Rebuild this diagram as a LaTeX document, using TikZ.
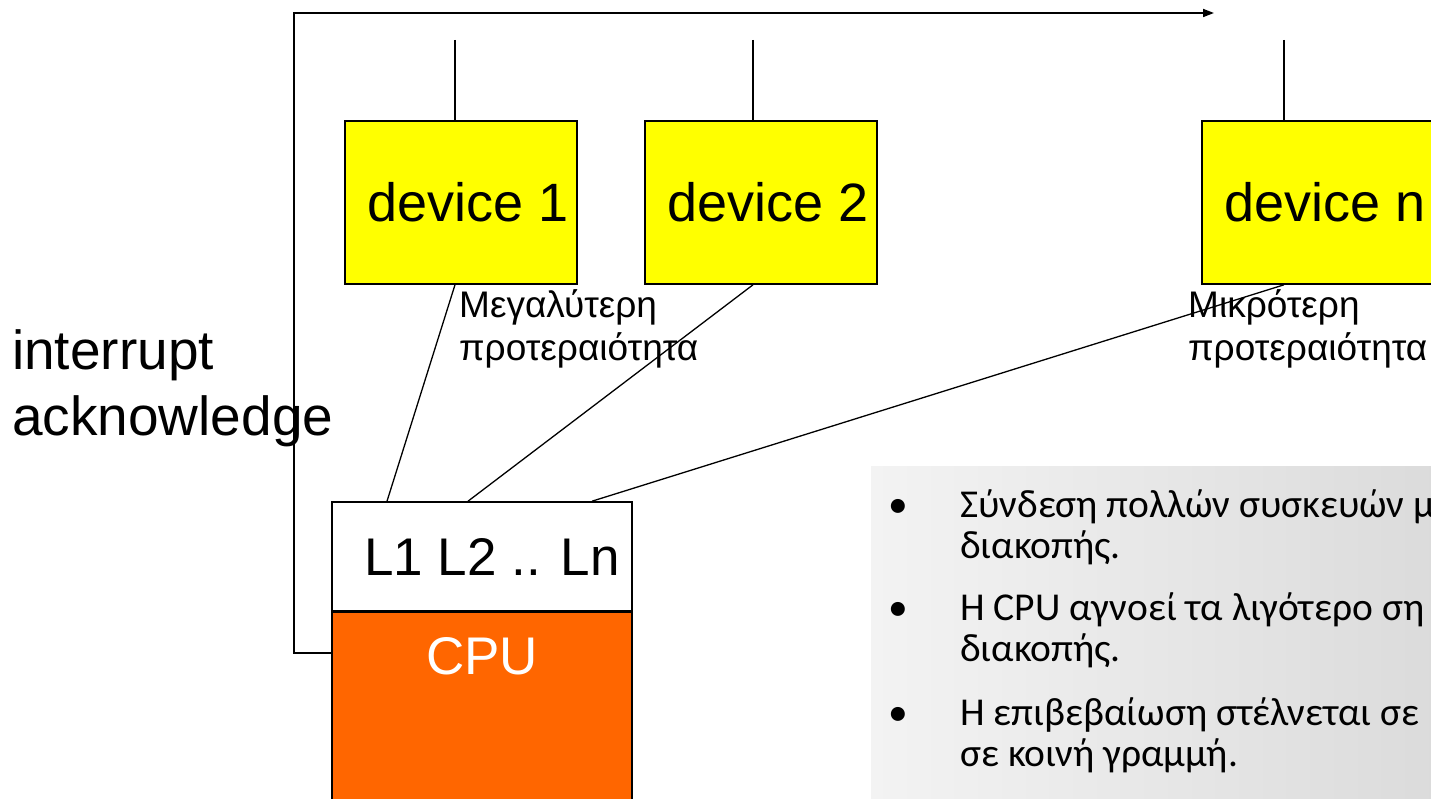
\documentclass[tikz,border=0pt]{standalone}
\usepackage{fontspec}
\setmainfont{Liberation Sans}
\newfontfamily\notefont{Carlito}
\usetikzlibrary{arrows.meta}

\definecolor{devyellow}{HTML}{FFFF00}
\definecolor{cpuorange}{HTML}{FF6600}
\definecolor{panellight}{HTML}{F3F3F3}
\definecolor{paneldark}{HTML}{DBDBDB}

\tikzset{
  wire/.style={line width=1.7pt, black},
  thinwire/.style={line width=1.3pt, black},
  devbox/.style={draw=black, line width=1.6pt, fill=devyellow,
    minimum width=232pt, minimum height=163pt, inner sep=0pt,
    font=\fontsize{54}{60}\selectfont,
    execute at begin node=\hspace*{14pt}},
  cpuhead/.style={draw=black, line width=1.6pt, fill=white,
    minimum width=300pt, minimum height=109pt, inner sep=0pt,
    font=\fontsize{53}{60}\selectfont,
    execute at begin node=\hspace*{20pt}},
  cpubody/.style={draw=black, line width=1.6pt, fill=cpuorange, text=white,
    minimum width=300pt, inner xsep=0pt, inner ysep=24pt,
    text height=38pt, text depth=200pt,
    font=\fontsize{53}{60}\selectfont},
  biglabel/.style={anchor=base west, inner sep=0pt,
    font=\fontsize{55}{60}\selectfont},
  prio/.style={anchor=base west, inner sep=0pt,
    font=\fontsize{37}{42}\selectfont},
  note/.style={anchor=base west, inner sep=0pt,
    font=\notefont\fontsize{39.5}{44}\selectfont},
  dot/.style={anchor=base, inner sep=0pt,
    font=\notefont\fontsize{39.5}{44}\selectfont},
}

\begin{document}
\begin{tikzpicture}[x=1pt, y=-1pt]
  \useasboundingbox (0,0) rectangle (1431,799);
  \clip (0,0) rectangle (1431,799);

  % shaded notes panel
  \fill[left color=panellight, right color=paneldark] (871,466) rectangle (1440,810);

  % devices
  \node[devbox] (dev1) at (461,202.5) {device 1};
  \node[devbox] (dev2) at (761,202.5) {device 2};
  \node[devbox] (devn) at (1318,202.5) {device n};

  % interrupt request stubs above the devices
  \coordinate (t1) at (455,40);
  \coordinate (t2) at (753,40);
  \coordinate (tn) at (1284,40);
  \draw[thinwire] (t1) -- (t1 |- dev1.north);
  \draw[thinwire] (t2) -- (t2 |- dev2.north);
  \draw[thinwire] (tn) -- (tn |- devn.north);

  % CPU with its interrupt lines
  \node[cpuhead] (lbox) at (482,556.5) {L1 L2 .. Ln};
  \node[cpubody, anchor=north] (cpu) at (lbox.south) {CPU};

  % each device to its own line
  \draw[thinwire] (t1 |- dev1.south) -- ([xshift=-95pt]lbox.north);
  \draw[thinwire] (t2 |- dev2.south) -- ([xshift=-14pt]lbox.north);
  \draw[thinwire] (tn |- devn.south) -- ([xshift=110pt]lbox.north);

  % acknowledge line
  \coordinate (corner) at (294,13);
  \coordinate (ackend) at (1214,13);
  \draw[wire, -{Triangle[length=11pt,width=8pt]}]
    ([yshift=-41pt]cpu.north west) -| (corner) -- (ackend);

  % labels
  \node[biglabel] (int1) at (12,369) {interrupt};
  \node[biglabel] (int2) at (12,435) {acknowledge};

  \node[prio] (hi1) at (459,318) {Μεγαλύτερη};
  \node[prio] (hi2) at (459,360) {προτεραιότητα};
  \node[prio] (lo1) at (1188,318) {Μικρότερη};
  \node[prio] (lo2) at (1188,360) {προτεραιότητα};

  % notes
  \node[dot] (b1) at (898,517) {•};
  \node[note] (n1) at (960,517) {Σύνδεση πολλών συσκευών μ};
  \node[note] (n2) at (960,558) {διακοπής.};
  \node[dot] (b2) at (898,620) {•};
  \node[note] (n3) at (960,620) {Η CPU αγνοεί τα λιγότερο ση};
  \node[note] (n4) at (960,661) {διακοπής.};
  \node[dot] (b3) at (898,725) {•};
  \node[note] (n5) at (960,725) {Η επιβεβαίωση στέλνεται σε};
  \node[note] (n6) at (960,766) {σε κοινή γραμμή.};
\end{tikzpicture}
\end{document}
